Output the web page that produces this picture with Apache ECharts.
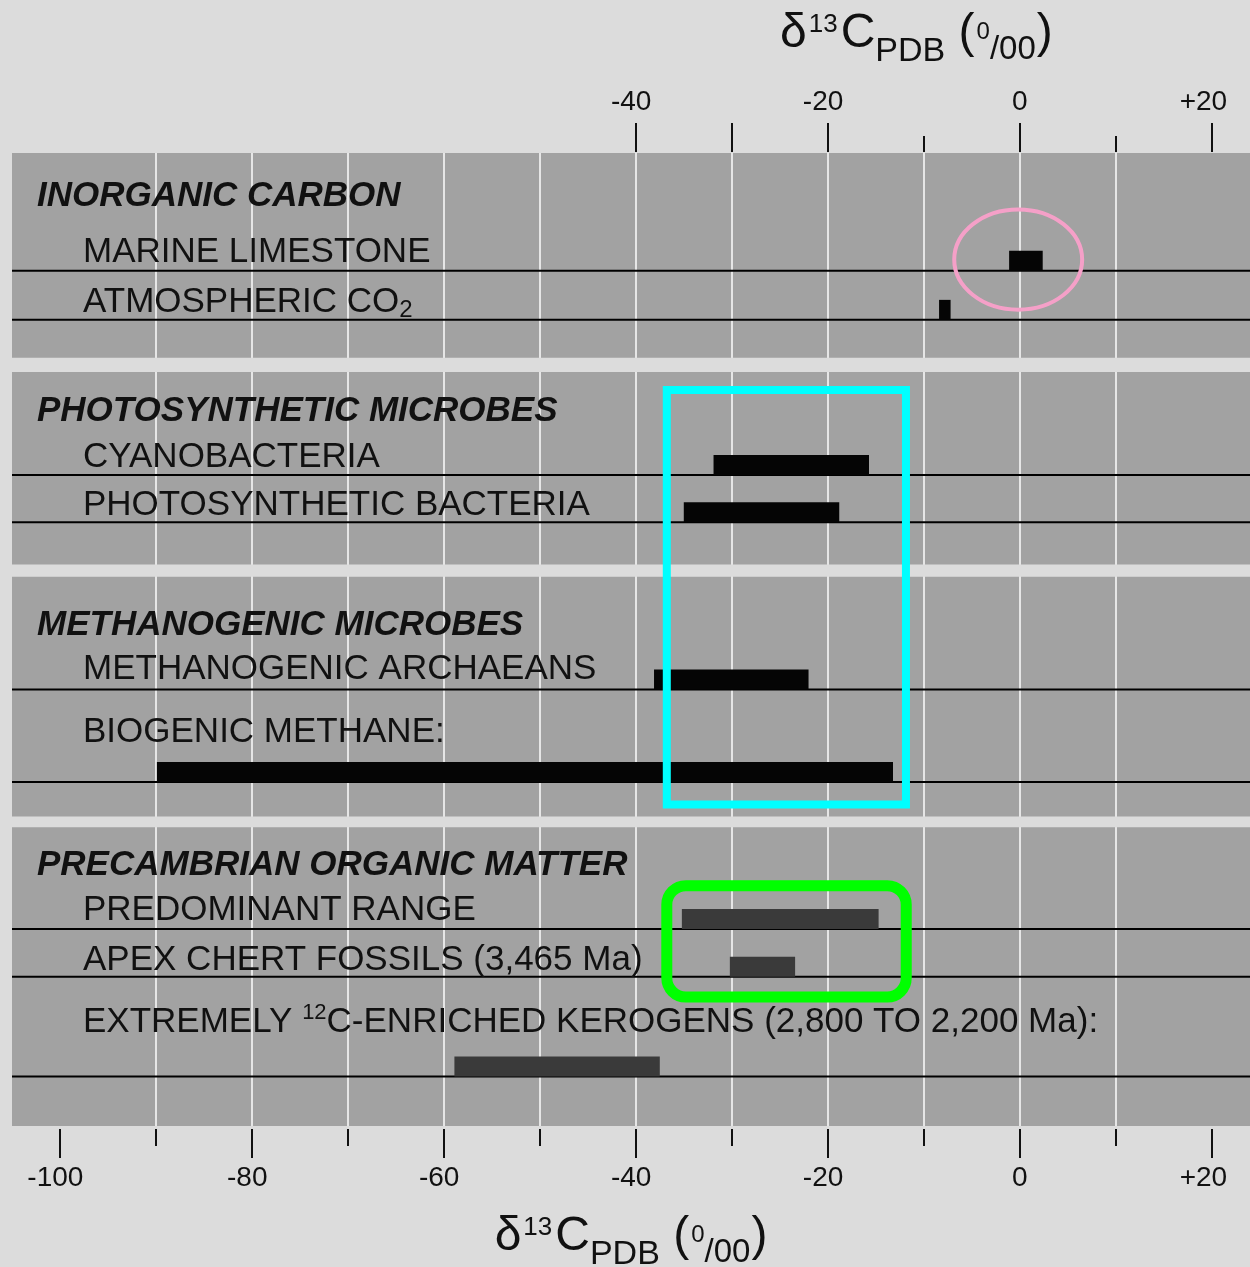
<!DOCTYPE html>
<html lang="en">

<head>
    <meta charset="UTF-8">
    <title>δ13C PDB ranges</title>
    <script src="https://cdn.jsdelivr.net/npm/echarts@6/dist/echarts.min.js"></script>
    <style>
        html, body { margin: 0; padding: 0; background: #dcdcdc; }
        #main { width: 1250px; height: 1267px; }
    </style>
</head>

<body>
    <div id="main"></div>
</body>

</html>
<script type="text/javascript">
    var FONT = '"Liberation Sans", Arial, Helvetica, sans-serif';

    // rows: label, range (per mil), row of the base line, row of the label
    var categories = [
        'MARINE LIMESTONE',
        'ATMOSPHERIC CO{sub|2}',
        'CYANOBACTERIA',
        'PHOTOSYNTHETIC BACTERIA',
        'METHANOGENIC ARCHAEANS',
        'BIOGENIC METHANE:',
        'PREDOMINANT RANGE',
        'APEX CHERT FOSSILS (3,465 Ma)',
        'EXTREMELY {sup|12}C-ENRICHED KEROGENS (2,800 TO 2,200 Ma):'
    ];
    var lows = [-1.1, -8.4, -31.9, -35.0, -38.1, -89.9, -35.2, -30.2, -58.9];
    var highs = [2.4, -7.2, -15.7, -18.8, -22.0, -13.2, -14.7, -23.4, -37.5];
    var lineRows = [2.42, 3.43, 6.62, 7.59, 11.03, 12.93, 15.95, 16.93, 18.98];
    var labelRows = [2.05, 3.08, 6.26, 7.25, 10.61, 11.91, 15.57, 16.60, 17.87];
    var rowGroup = [0, 0, 1, 1, 2, 2, 3, 3, 3];

    var headings = ['INORGANIC CARBON', 'PHOTOSYNTHETIC MICROBES', 'METHANOGENIC MICROBES', 'PRECAMBRIAN ORGANIC MATTER'];
    var headingRows = [0.9, 5.3, 9.71, 14.64];
    var panelGaps = [[4.21, 4.50], [8.46, 8.71], [13.64, 13.86]];

    // axis ticks
    var gridValues = [-100, -90, -80, -70, -60, -50, -40, -30, -20, -10, 0, 10, 20];
    var bottomTicks = [-100, -80, -60, -40, -20, 0, 20];
    var bottomShortTicks = [-90, -70, -50, -30, -10, 10];
    var topTicks = [-40, -30, -20, 0, 20];
    var topShortTicks = [-10, 10];
    var topLabels = [-40, -20, 0, 20];

    // highlight marks: [x0, row0, x1, row1]
    var markBoxes = [
        [-6.82, 1.16, 6.51, 3.22],
        [-36.77, 4.87, -11.85, 13.39],
        [-36.77, 15.06, -11.82, 17.35]
    ];

    var barColors = ['#050505', '#050505', '#050505', '#3a3a3a'];
    var markStyles = [
        { stroke: '#f5a0c8', lineWidth: 4 },
        { stroke: '#00ffff', lineWidth: 8 },
        { stroke: '#00ff00', lineWidth: 11 }
    ];

    var xMin = -105, xMax = 24;

    var titleText = '{d|δ}{sup|13}{d|C}{sub|PDB}{d| (}{o|0}{per|/00}{d|)}';
    var titleRich = {
        d: { fontFamily: FONT, fontSize: 48, fontWeight: 'normal', lineHeight: 82, color: '#111' },
        sup: { fontFamily: FONT, fontSize: 26, fontWeight: 'normal', verticalAlign: 'top', padding: [19, 3, 0, 2], color: '#111' },
        sub: { fontFamily: FONT, fontSize: 34, fontWeight: 'normal', verticalAlign: 'bottom', padding: [0, 0, 6, 0], color: '#111' },
        o: { fontFamily: FONT, fontSize: 24, fontWeight: 'normal', padding: [0, 0, 4, 2], color: '#111' },
        per: { fontFamily: FONT, fontSize: 33, fontWeight: 'normal', verticalAlign: 'bottom', padding: [0, 1, 9, 0], color: '#111' }
    };

    var labelRich = {
        sub: { fontFamily: FONT, fontSize: 24, lineHeight: 22, verticalAlign: 'bottom', color: '#111' },
        sup: { fontFamily: FONT, fontSize: 22, lineHeight: 30, verticalAlign: 'top', color: '#111' }
    };

    // digits centred on the tick, sign hanging left (like the original)
    function tickLabel(v) {
        if (v < 0) return '{n|' + v + '}{h|-}';
        if (v > 0) return '{n|+' + v + '}{h|+}';
        return '{n|0}';
    }
    var tickRich = {
        n: { fontFamily: FONT, fontSize: 28, color: '#111' },
        h: { fontFamily: FONT, fontSize: 28, color: 'rgba(0,0,0,0)' }
    };

    function xAxisBase(pos) {
        return {
            type: 'value', min: xMin, max: xMax, position: pos,
            minInterval: 10, maxInterval: 10, splitNumber: 13,
            axisLine: { show: false, onZero: false },
            axisTick: { show: false },
            axisLabel: { show: false },
            splitLine: { show: false }
        };
    }

    // bottom axis with labels and title
    var xBottom = xAxisBase('bottom');
    xBottom.offset = 3;
    xBottom.axisTick = { show: true, customValues: bottomTicks, length: 29, lineStyle: { color: '#111', width: 2 } };
    xBottom.axisLabel = { show: true, customValues: bottomTicks, formatter: tickLabel, rich: tickRich, margin: 35 };
    xBottom.name = titleText;
    xBottom.nameLocation = 'middle';
    xBottom.nameGap = 67;
    xBottom.nameTextStyle = { rich: titleRich };

    var xBottomShort = xAxisBase('bottom');
    xBottomShort.offset = 3;
    xBottomShort.axisTick = { show: true, customValues: bottomShortTicks, length: 17, lineStyle: { color: '#111', width: 2 } };

    var xTop = xAxisBase('top');
    xTop.offset = 1;
    xTop.axisTick = { show: true, customValues: topTicks, length: 29, lineStyle: { color: '#111', width: 2 } };
    xTop.axisLabel = { show: true, customValues: topLabels, formatter: tickLabel, rich: tickRich, margin: 36 };

    var xTopShort = xAxisBase('top');
    xTopShort.offset = 1;
    xTopShort.axisTick = { show: true, customValues: topShortTicks, length: 16, lineStyle: { color: '#111', width: 2 } };

    // white vertical grid lines every 10
    var xGrid = xAxisBase('bottom');
    xGrid.axisTick = { show: false, customValues: gridValues };
    xGrid.splitLine = { show: true, showMinLine: false, showMaxLine: false, lineStyle: { color: '#e6e6e6', width: 2 } };

    var rowData = [];
    for (var i = 0; i < categories.length; i++) {
        rowData.push([lows[i], highs[i], lineRows[i], labelRows[i]]);
    }
    var headingData = [];
    for (var j = 0; j < headings.length; j++) {
        headingData.push([0, headingRows[j]]);
    }
    var gapAreas = panelGaps.map(function (g) {
        return [{ yAxis: g[0] }, { yAxis: g[1] }];
    });

    var myChart = echarts.init(document.getElementById('main'));

    var option = {
        animation: false,
        backgroundColor: '#dcdcdc',
        title: {
            text: titleText,
            left: 780,
            top: -7,
            padding: 0,
            textStyle: { fontWeight: 'normal', rich: titleRich }
        },
        grid: {
            left: 12, right: 0, top: 153, bottom: 141,
            containLabel: false, outerBoundsMode: 'none',
            show: true, backgroundColor: '#a2a2a2', borderWidth: 0
        },
        xAxis: [xBottom, xBottomShort, xTop, xTopShort, xGrid],
        yAxis: { type: 'value', min: 0, max: 20, inverse: true, show: false },
        series: [{
            type: 'custom',
            name: 'headings',
            z: 2,
            data: headingData,
            encode: { x: 0, y: 1 },
            renderItem: function (params, api) {
                var cs = params.coordSys;
                var y = api.coord([0, api.value(1)])[1];
                return {
                    type: 'text', x: cs.x + 25, y: y,
                    style: {
                        text: headings[params.dataIndex], fill: '#111',
                        fontFamily: FONT, fontSize: 35, fontWeight: 'bold', fontStyle: 'italic',
                        verticalAlign: 'middle'
                    }
                };
            },
            markArea: {
                silent: true,
                label: { show: false },
                itemStyle: { color: '#dcdcdc', opacity: 1 },
                data: gapAreas
            }
        }, {
            type: 'custom',
            name: 'rows',
            z: 3,
            data: rowData,
            encode: { x: [0, 1], y: 2 },
            renderItem: function (params, api) {
                var cs = params.coordSys;
                var k = params.dataIndex;
                var start = api.coord([api.value(0), api.value(2)]);
                var end = api.coord([api.value(1), api.value(2)]);
                var labelY = api.coord([api.value(0), api.value(3)])[1];
                return {
                    type: 'group',
                    children: [{
                        type: 'line',
                        shape: { x1: cs.x, y1: start[1], x2: cs.x + cs.width, y2: start[1] },
                        style: { stroke: '#000', lineWidth: 2 }
                    }, {
                        type: 'rect',
                        shape: { x: start[0], y: start[1] - 20, width: end[0] - start[0], height: 20 },
                        style: { fill: barColors[rowGroup[k]] }
                    }, {
                        type: 'text', x: cs.x + 71, y: labelY,
                        style: {
                            text: categories[k], fill: '#111',
                            fontFamily: FONT, fontSize: 35, lineHeight: 40,
                            verticalAlign: 'middle', rich: labelRich
                        }
                    }]
                };
            }
        }, {
            type: 'custom',
            name: 'marks',
            z: 4,
            data: markBoxes,
            encode: { x: [0, 2], y: [1, 3] },
            renderItem: function (params, api) {
                var k = params.dataIndex;
                var p0 = api.coord([api.value(0), api.value(1)]);
                var p1 = api.coord([api.value(2), api.value(3)]);
                var w = p1[0] - p0[0], h = p1[1] - p0[1];
                var st = { fill: 'none', stroke: markStyles[k].stroke, lineWidth: markStyles[k].lineWidth };
                if (k === 0) {
                    return { type: 'ellipse', shape: { cx: p0[0] + w / 2, cy: p0[1] + h / 2, rx: w / 2, ry: h / 2 }, style: st };
                }
                return { type: 'rect', shape: { x: p0[0], y: p0[1], width: w, height: h, r: k === 2 ? 19 : 0 }, style: st };
            }
        }]
    };

    myChart.setOption(option);
</script>
